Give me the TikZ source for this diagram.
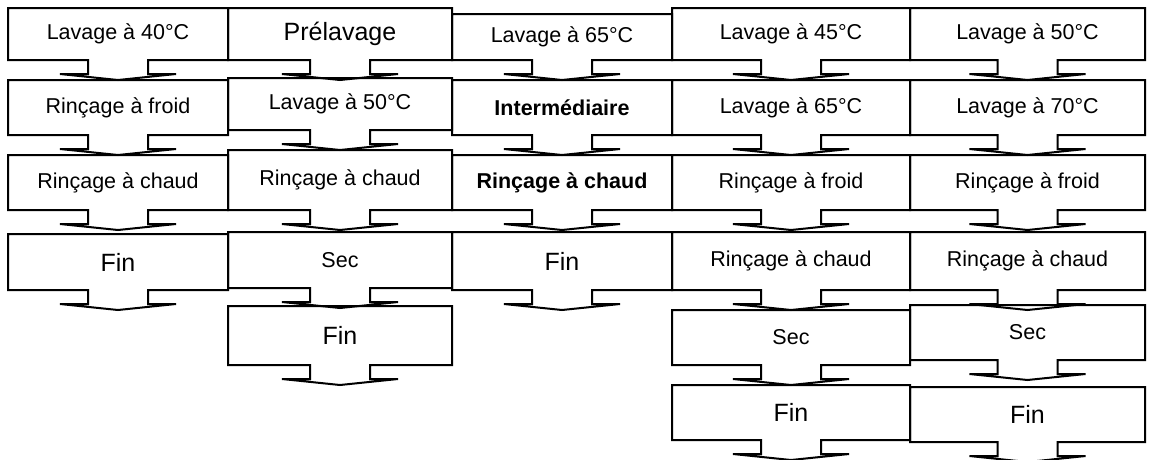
\documentclass[tikz,border=0pt]{standalone}
\usepackage{fontspec}
\setmainfont{Liberation Sans}
\usetikzlibrary{calc}

% box with a down arrow at its bottom: name, left, right, top, bottom, text
\newcommand{\stepbox}[6]{%
  \node[steptext] (#1) at ({(#2+#3)/2},{(#4+#5)/2}) {#6};
  \draw[stepline] ({(#2+#3)/2-30},#5) -- (#2,#5) -- (#2,#4) -- (#3,#4) -- (#3,#5)
    -- ({(#2+#3)/2+30},#5) -- ++(0,14) -- ++(28,0) -- ({(#2+#3)/2},#5+20)
    -- ({(#2+#3)/2-58},#5+14) -- ++(28,0) -- cycle;
}

\begin{document}
\begin{tikzpicture}[x=1pt,y=-1pt,
  steptext/.style={font=\fontsize{21.5}{24}\selectfont, inner sep=0pt},
  stepline/.style={line width=2pt, line join=miter}]
\useasboundingbox[fill=white] (0,0) rectangle (1151,459);

% Column 1
\stepbox{aa}{8}{228}{8}{60}{Lavage à 40°C}
\stepbox{ab}{8}{228}{80}{135}{Rinçage à froid}
\stepbox{ac}{8}{228}{155}{210}{Rinçage à chaud}
\stepbox{ad}{8}{228}{234}{290}{\fontsize{25}{28}\selectfont Fin}

% Column 2
\stepbox{ba}{228}{452}{8}{60}{\fontsize{25}{28}\selectfont Prélavage}
\stepbox{bb}{228}{452}{78}{130}{Lavage à 50°C}
\stepbox{bc}{228}{452}{150}{210}{Rinçage à chaud}
\stepbox{bd}{228}{452}{232}{288}{Sec}
\stepbox{be}{228}{452}{306}{365}{\fontsize{25}{28}\selectfont Fin}

% Column 3
\stepbox{ca}{452}{672}{14}{60}{Lavage à 65°C}
\stepbox{cb}{452}{672}{80}{135}{\bfseries Intermédiaire}
\stepbox{cc}{452}{672}{155}{210}{\bfseries Rinçage à chaud}
\stepbox{cd}{452}{672}{232}{290}{\fontsize{25}{28}\selectfont Fin}

% Column 4
\stepbox{da}{672}{910}{8}{60}{Lavage à 45°C}
\stepbox{db}{672}{910}{80}{135}{Lavage à 65°C}
\stepbox{dc}{672}{910}{155}{210}{Rinçage à froid}
\stepbox{dd}{672}{910}{232}{290}{Rinçage à chaud}
\stepbox{de}{672}{910}{310}{365}{Sec}
\stepbox{df}{672}{910}{385}{440}{\fontsize{25}{28}\selectfont Fin}

% Column 5
\stepbox{ea}{910}{1145}{8}{60}{Lavage à 50°C}
\stepbox{eb}{910}{1145}{80}{135}{Lavage à 70°C}
\stepbox{ec}{910}{1145}{155}{210}{Rinçage à froid}
\stepbox{ed}{910}{1145}{232}{290}{Rinçage à chaud}
\stepbox{ee}{910}{1145}{305}{360}{Sec}
\stepbox{ef}{910}{1145}{387}{442}{\fontsize{25}{28}\selectfont Fin}
\end{tikzpicture}
\end{document}
